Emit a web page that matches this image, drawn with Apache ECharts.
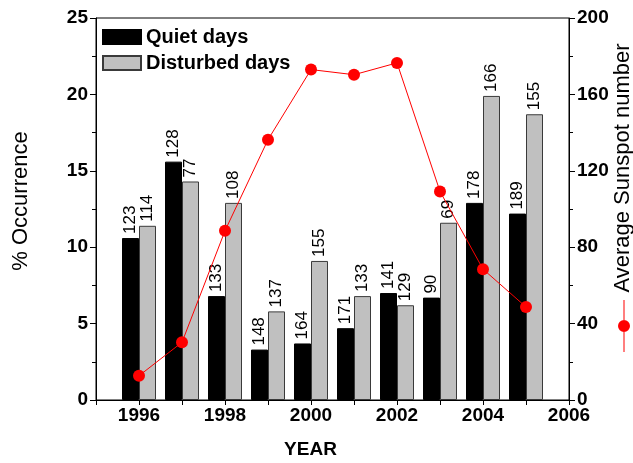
<!DOCTYPE html>
<html>
<head>
<meta charset="utf-8">
<script src="https://cdn.jsdelivr.net/npm/echarts@6/dist/echarts.min.js"></script>
<style>html,body{margin:0;padding:0;background:#fff}#c{width:633px;height:463px}</style>
</head>
<body>
<div id="c"></div>
<script>
const years = [1996, 1997, 1998, 1999, 2000, 2001, 2002, 2003, 2004, 2005];
const quietPct = [10.6, 15.6, 6.8, 3.3, 3.7, 4.7, 7.0, 6.7, 12.9, 12.2];
const disturbedPct = [11.4, 14.3, 12.9, 5.8, 9.1, 6.8, 6.2, 11.6, 19.9, 18.7];
const quietCounts = [123, 128, 133, 148, 164, 171, 141, 90, 178, 189];
const disturbedCounts = [114, 77, 108, 137, 155, 133, 129, 69, 166, 155];
const sunspot = [12.7, 30.2, 88.6, 136.3, 173.0, 170.3, 176.5, 109.2, 68.5, 48.7];

const FONT = "'Liberation Sans', Arial, sans-serif";
const pair = (vals) => years.map((y, i) => [y, vals[i]]);

const chart = echarts.init(document.getElementById('c'));
const barLabel = (counts) => ({
  show: true, position: 'top', rotate: 90, align: 'left', verticalAlign: 'middle',
  distance: 4, fontSize: 17, fontFamily: FONT, color: '#000',
  formatter: (p) => String(counts[p.dataIndex])
});
const axisLineStyle = { color: '#000', width: 1 };

chart.setOption({
  animation: false,
  backgroundColor: '#fff',
  textStyle: { fontFamily: FONT },
  grid: { left: 96, right: 64, top: 18, bottom: 63, show: true, borderColor: '#000', borderWidth: 1,
          containLabel: false, outerBoundsMode: 'none' },
  legend: [{
    data: ['Quiet days', 'Disturbed days'],
    orient: 'vertical', left: 97, top: 22, itemWidth: 38, itemHeight: 14, itemGap: 6,
    icon: 'rect',
    textStyle: { fontSize: 20, fontWeight: 'bold', color: '#000', fontFamily: FONT }
  }, {
    data: ['Average Sunspot number'],
    orient: 'vertical', left: 613, top: 295, itemWidth: 12, itemHeight: 52,
    icon: 'path://M5.5,0 L6.5,0 L6.5,52 L5.5,52 Z M12,26 A6,6 0 1 1 0,26 A6,6 0 1 1 12,26 Z',
    formatter: () => '',
    textStyle: { fontSize: 1 }
  }],
  xAxis: {
    type: 'value', min: 1995, max: 2006, interval: 1,
    axisLine: { lineStyle: axisLineStyle },
    axisTick: { show: true, inside: false, length: 5, lineStyle: axisLineStyle },
    splitLine: { show: false },
    axisLabel: {
      formatter: (v) => (v % 2 === 0 ? String(v) : ''),
      fontSize: 19, fontWeight: 'bold', color: '#000', margin: 6, fontFamily: FONT
    },
    name: 'YEAR', nameLocation: 'middle', nameGap: 40, nameMoveOverlap: false,
    nameTextStyle: { fontSize: 19, fontWeight: 'bold', color: '#000', padding: [0, 44, 0, 0], fontFamily: FONT }
  },
  yAxis: [{
    type: 'value', min: 0, max: 25, interval: 5,
    axisLine: { show: true, lineStyle: axisLineStyle },
    axisTick: { show: true, inside: false, length: 6, lineStyle: axisLineStyle },
    minorTick: { show: true, splitNumber: 2, length: 4, lineStyle: axisLineStyle },
    splitLine: { show: false },
    axisLabel: { fontSize: 19, fontWeight: 'bold', color: '#000', margin: 8, fontFamily: FONT },
    name: '% Occurrence', nameLocation: 'middle', nameGap: 64, nameMoveOverlap: false,
    nameTextStyle: { fontSize: 22, color: '#000', padding: [0, 0, 0, 16], fontFamily: FONT }
  }, {
    type: 'value', min: 0, max: 200, interval: 40, position: 'right',
    axisLine: { show: true, lineStyle: axisLineStyle },
    axisTick: { show: true, inside: false, length: 6, lineStyle: axisLineStyle },
    minorTick: { show: true, splitNumber: 2, length: 4, lineStyle: axisLineStyle },
    splitLine: { show: false },
    axisLabel: { fontSize: 19, fontWeight: 'bold', color: '#000', margin: 8, fontFamily: FONT },
    name: 'Average Sunspot number', nameLocation: 'middle', nameGap: 43, nameMoveOverlap: false,
    nameTextStyle: { fontSize: 22, color: '#000', padding: [0, 0, 0, 82], fontFamily: FONT }
  }],
  series: [{
    name: 'Quiet days', type: 'bar', data: pair(quietPct),
    barWidth: 17, barGap: '0%',
    itemStyle: { color: '#000', borderColor: '#000', borderWidth: 1 },
    label: barLabel(quietCounts), z: 2
  }, {
    name: 'Disturbed days', type: 'bar', data: pair(disturbedPct),
    barWidth: 17, barGap: '0%',
    itemStyle: { color: '#c0c0c0', borderColor: '#3a3a3a', borderWidth: 1 },
    label: barLabel(disturbedCounts), z: 2
  }, {
    name: 'Average Sunspot number', type: 'line', yAxisIndex: 1, data: pair(sunspot),
    symbol: 'circle', symbolSize: 12,
    itemStyle: { color: '#ff0000' },
    lineStyle: { color: '#ff0000', width: 1 },
    z: 10
  }]
});
</script>
</body>
</html>
